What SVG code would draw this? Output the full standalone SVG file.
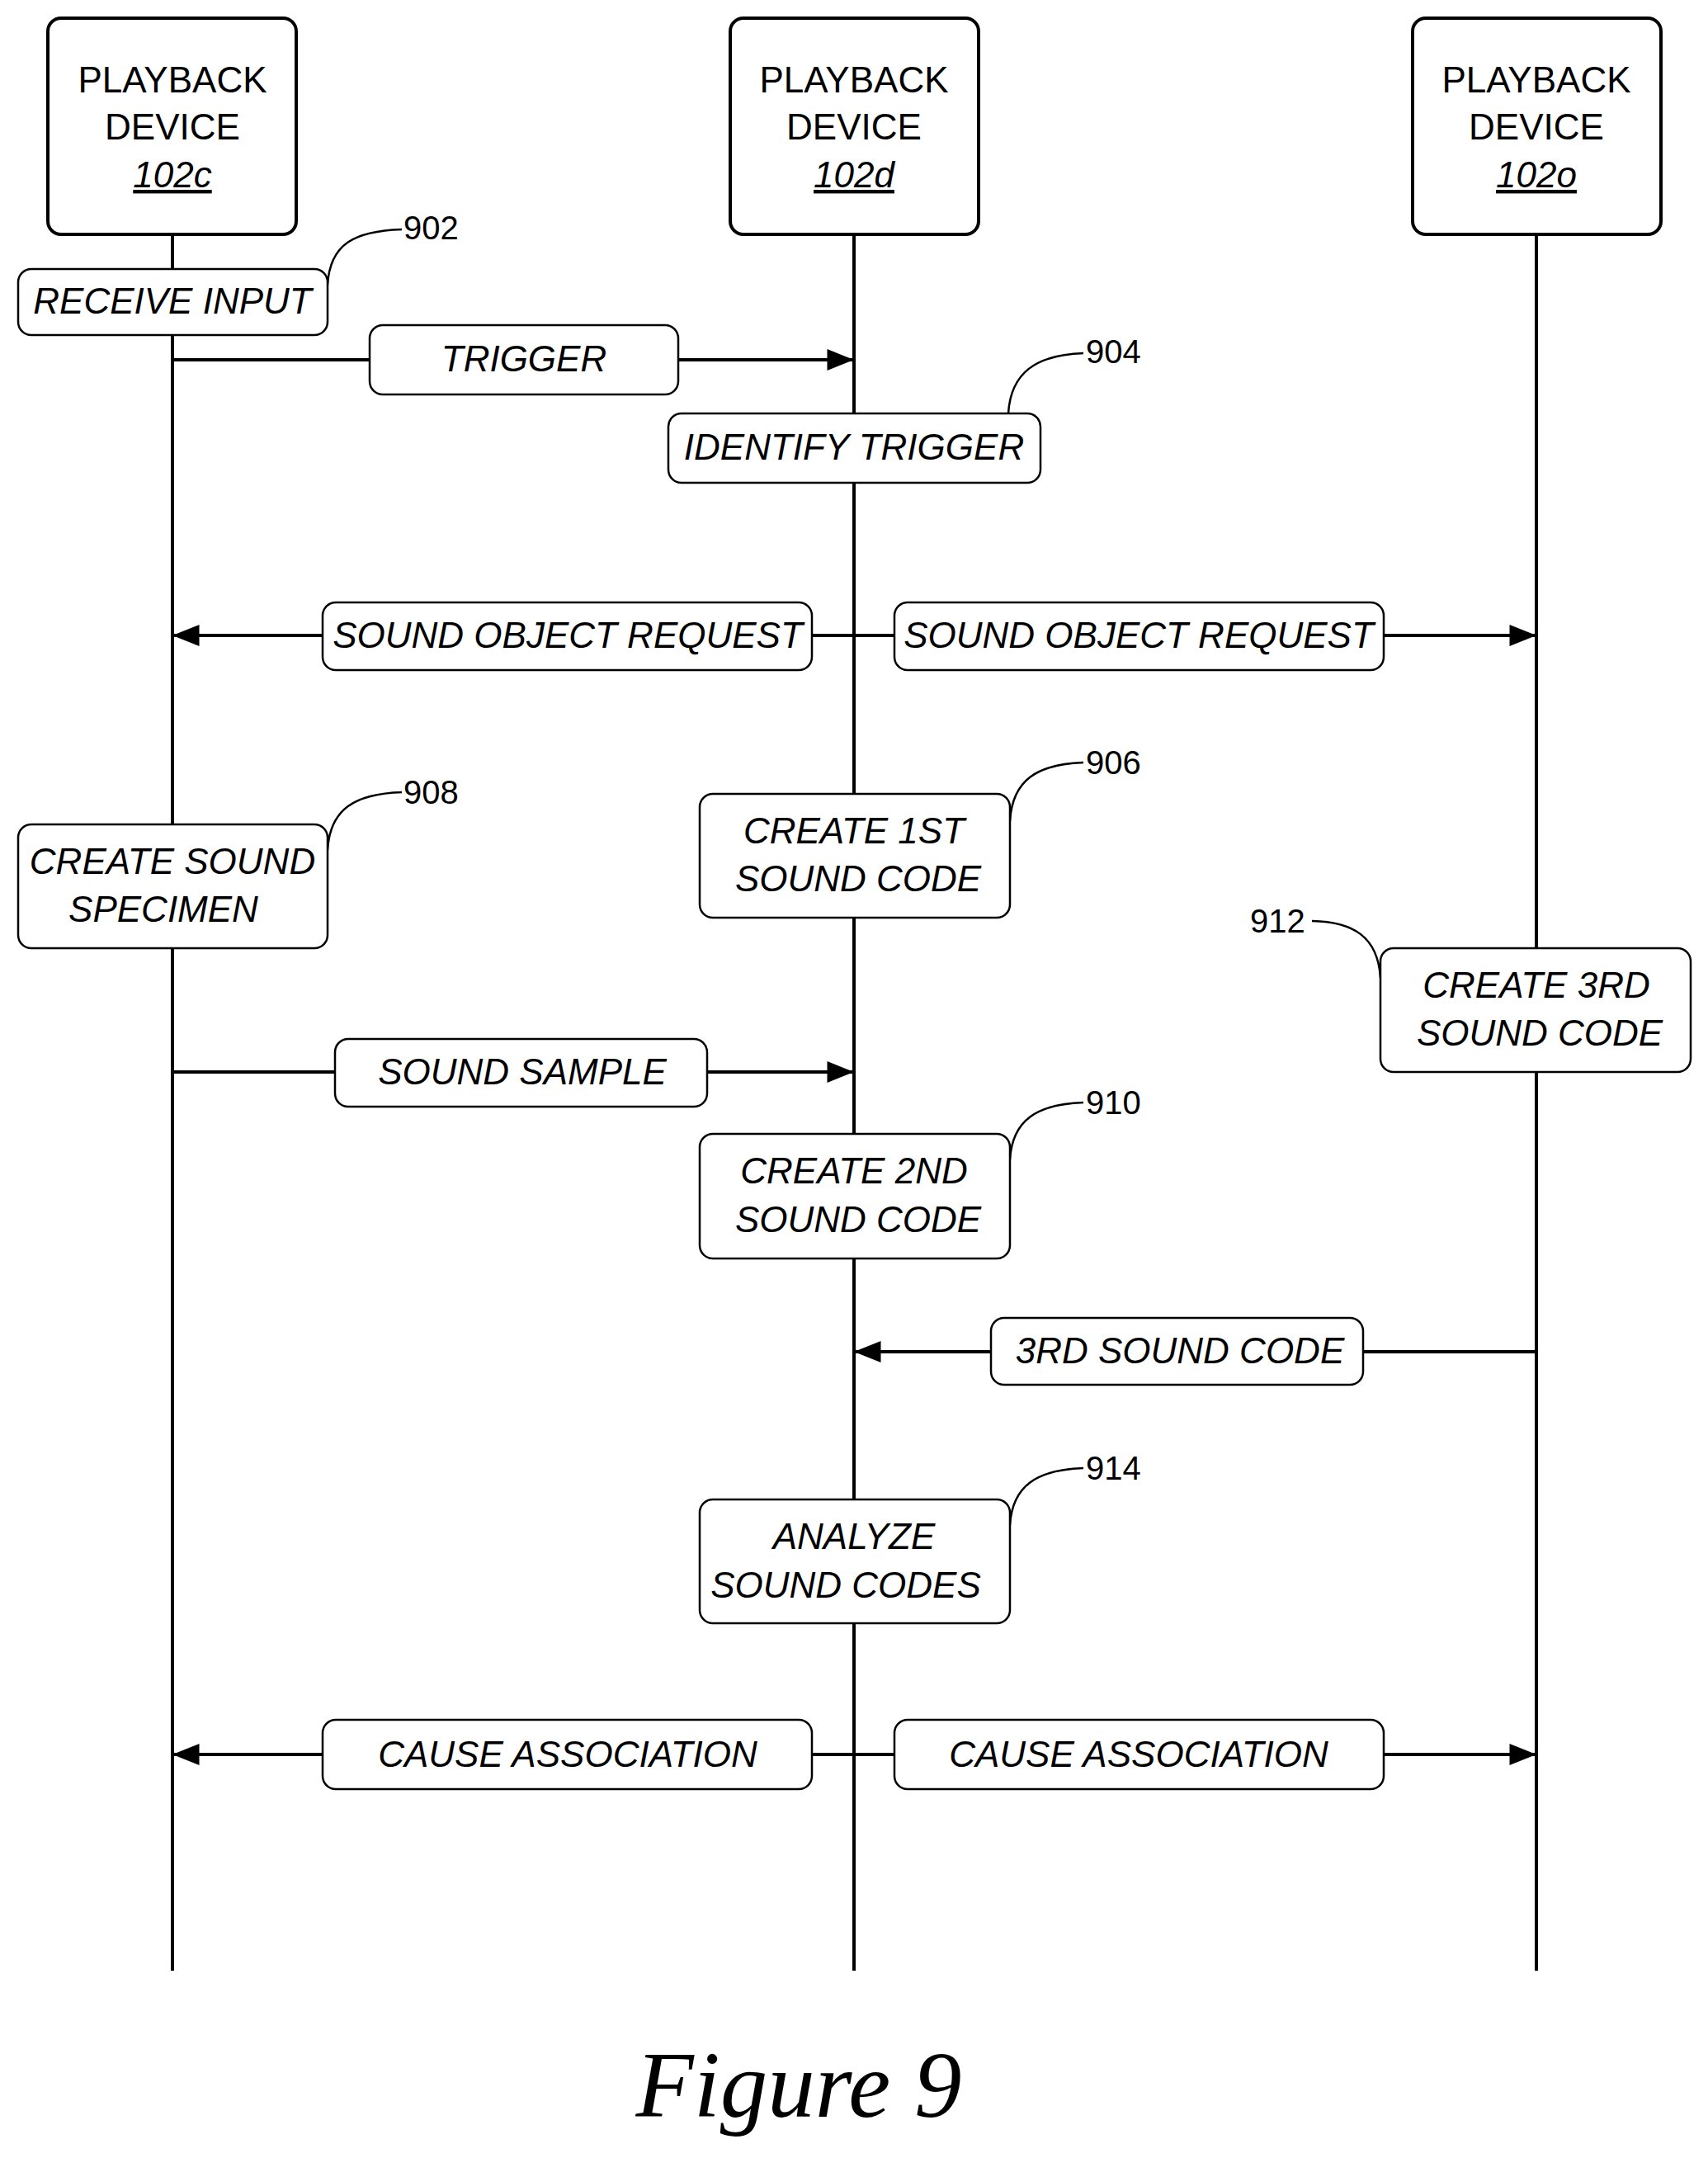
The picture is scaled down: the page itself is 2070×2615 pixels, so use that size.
<svg xmlns="http://www.w3.org/2000/svg" width="2070" height="2615" viewBox="0 0 2070 2615">
<style>
.hd{fill:#fff;stroke:#000;stroke-width:4}
.bx{fill:#fff;stroke:#000;stroke-width:2.5}
.ln{stroke:#000;stroke-width:4;fill:none}
.cl{stroke:#000;stroke-width:2.5;fill:none}
.t{font-family:"Liberation Sans",Arial,sans-serif;font-size:44px;text-anchor:middle}
.i{font-style:italic}
.n{font-family:"Liberation Sans",Arial,sans-serif;font-size:40px}
</style>
<defs><marker id="a" markerWidth="10" markerHeight="8" refX="10" refY="4" orient="auto" markerUnits="userSpaceOnUse" viewBox="0 0 10 8"><path d="M0,0L10,4L0,8z"/></marker>
<marker id="ah" viewBox="0 0 10 8" refX="10" refY="4" markerWidth="40" markerHeight="26" orient="auto" markerUnits="userSpaceOnUse"><path d="M0,0L10,4L0,8z"/></marker></defs>
<g id="lifelines">
<line class="ln" x1="209" y1="284" x2="209" y2="2388"/>
<line class="ln" x1="1035" y1="284" x2="1035" y2="2388"/>
<line class="ln" x1="1862" y1="284" x2="1862" y2="2388"/>
</g>
<g id="head1"><rect class="hd" x="58" y="22" width="301" height="262" rx="16"/><text class="t" x="209" y="112">PLAYBACK</text><text class="t" x="209" y="169">DEVICE</text><text class="t i" x="209" y="227" text-decoration="underline">102c</text></g>
<g id="head2"><rect class="hd" x="885" y="22" width="301" height="262" rx="16"/><text class="t" x="1035" y="112">PLAYBACK</text><text class="t" x="1035" y="169">DEVICE</text><text class="t i" x="1035" y="227" text-decoration="underline">102d</text></g>
<g id="head3"><rect class="hd" x="1712" y="22" width="301" height="262" rx="16"/><text class="t" x="1862" y="112">PLAYBACK</text><text class="t" x="1862" y="169">DEVICE</text><text class="t i" x="1862" y="227" text-decoration="underline">102o</text></g>
<g id="connectors">
<line class="ln" x1="209" y1="436" x2="1035" y2="436" marker-end="url(#ah)"/>
<line class="ln" x1="1035" y1="770" x2="209" y2="770" marker-end="url(#ah)"/>
<line class="ln" x1="1035" y1="770" x2="1862" y2="770" marker-end="url(#ah)"/>
<line class="ln" x1="209" y1="1299" x2="1035" y2="1299" marker-end="url(#ah)"/>
<line class="ln" x1="1862" y1="1638" x2="1035" y2="1638" marker-end="url(#ah)"/>
<line class="ln" x1="1035" y1="2126" x2="209" y2="2126" marker-end="url(#ah)"/>
<line class="ln" x1="1035" y1="2126" x2="1862" y2="2126" marker-end="url(#ah)"/>
<path class="cl" d="M397,345 C400,295 430,280 487,278"/>
<path class="cl" d="M1222,501 C1225,452 1255,430 1313,428"/>
<path class="cl" d="M1224,995 C1227,945 1257,926 1313,924"/>
<path class="cl" d="M397,1030 C400,980 430,962 487,960"/>
<path class="cl" d="M1673,1185 C1670,1135 1640,1117 1590,1116"/>
<path class="cl" d="M1224,1405 C1227,1357 1257,1338 1313,1336"/>
<path class="cl" d="M1224,1848 C1227,1800 1257,1781 1313,1779"/>
</g>
<g id="n902"><rect class="bx" x="22" y="326" width="375" height="80" rx="16"/><text class="t i" x="209" y="380">RECEIVE INPUT</text><text class="n" x="489" y="290">902</text></g>
<g id="trigger"><rect class="bx" x="448" y="394" width="374" height="84" rx="16"/><text class="t i" x="635" y="450">TRIGGER</text></g>
<g id="n904"><rect class="bx" x="810" y="501" width="451" height="84" rx="16"/><text class="t i" x="1035" y="557">IDENTIFY TRIGGER</text><text class="n" x="1316" y="440">904</text></g>
<g id="sor1"><rect class="bx" x="391" y="730" width="593" height="82" rx="16"/><text class="t i" x="688" y="785">SOUND OBJECT REQUEST</text></g>
<g id="sor2"><rect class="bx" x="1084" y="730" width="593" height="82" rx="16"/><text class="t i" x="1380" y="785">SOUND OBJECT REQUEST</text></g>
<g id="n908"><rect class="bx" x="22" y="999" width="375" height="150" rx="16"/><text class="t i" x="209" y="1059">CREATE SOUND</text><text class="t i" x="198" y="1117">SPECIMEN</text><text class="n" x="489" y="974">908</text></g>
<g id="n906"><rect class="bx" x="848" y="962" width="376" height="150" rx="16"/><text class="t i" x="1035" y="1022">CREATE 1ST</text><text class="t i" x="1040" y="1080">SOUND CODE</text><text class="n" x="1316" y="938">906</text></g>
<g id="n912"><rect class="bx" x="1673" y="1149" width="376" height="150" rx="16"/><text class="t i" x="1862" y="1209">CREATE 3RD</text><text class="t i" x="1866" y="1267">SOUND CODE</text><text class="n" x="1515" y="1130">912</text></g>
<g id="sample"><rect class="bx" x="406" y="1259" width="451" height="82" rx="16"/><text class="t i" x="633" y="1314">SOUND SAMPLE</text></g>
<g id="n910"><rect class="bx" x="848" y="1374" width="376" height="151" rx="16"/><text class="t i" x="1035" y="1434">CREATE 2ND</text><text class="t i" x="1040" y="1493">SOUND CODE</text><text class="n" x="1316" y="1350">910</text></g>
<g id="code3"><rect class="bx" x="1201" y="1597" width="451" height="81" rx="16"/><text class="t i" x="1430" y="1652">3RD SOUND CODE</text></g>
<g id="n914"><rect class="bx" x="848" y="1817" width="376" height="150" rx="16"/><text class="t i" x="1035" y="1877">ANALYZE</text><text class="t i" x="1025" y="1936">SOUND CODES</text><text class="n" x="1316" y="1793">914</text></g>
<g id="ca1"><rect class="bx" x="391" y="2084" width="593" height="84" rx="16"/><text class="t i" x="688" y="2141">CAUSE ASSOCIATION</text></g>
<g id="ca2"><rect class="bx" x="1084" y="2084" width="593" height="84" rx="16"/><text class="t i" x="1380" y="2141">CAUSE ASSOCIATION</text></g>
<text x="968" y="2565" font-family="Liberation Serif,serif" font-style="italic" font-size="115" text-anchor="middle">Figure 9</text>
</svg>
